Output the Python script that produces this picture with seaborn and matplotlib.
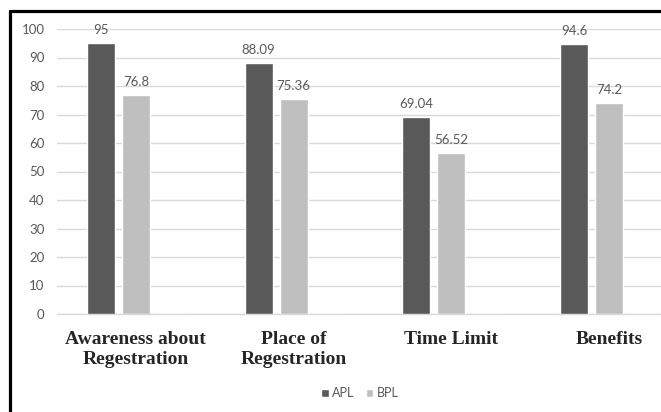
import numpy as np
import pandas as pd
import matplotlib
matplotlib.use("Agg")
import matplotlib.pyplot as plt
from matplotlib.patches import Patch
from matplotlib.lines import Line2D
import seaborn as sns

categories = ["Awareness about\nRegestration", "Place of\nRegestration", "Time Limit", "Benefits"]
apl = [95, 88.09, 69.04, 94.6]
bpl = [76.8, 75.36, 56.52, 74.2]
apl_labels = ["95", "88.09", "69.04", "94.6"]
bpl_labels = ["76.8", "75.36", "56.52", "74.2"]

# Excel kept an empty third slot in each group, so bars sit left of centre
df = pd.DataFrame({
    "category": categories * 3,
    "series": ["APL"] * 4 + ["BPL"] * 4 + ["blank"] * 4,
    "value": apl + bpl + [0, 0, 0, 0],
})

sns.set_style("white")
plt.rcParams["font.family"] = ["Lato", "DejaVu Sans"]

fig = plt.figure(figsize=(6.61, 4.12), dpi=100, facecolor="white")
ax = fig.add_axes([57 / 661, 98 / 412, 1 - 57 / 661, 285 / 412])

palette = {"APL": "#595959", "BPL": "#bfbfbf", "blank": "white"}
sns.barplot(data=df, x="category", y="value", hue="series",
            hue_order=["APL", "BPL", "blank"], order=categories,
            palette=palette, width=0.665, gap=0.2, saturation=1,
            legend=False, ax=ax, zorder=3)

for cont, labs in zip(ax.containers[:2], [apl_labels, bpl_labels]):
    ax.bar_label(cont, labels=labs, padding=5, fontsize=9.5, color="#595959")

ax.set_ylim(0, 100)
ax.set_yticks(range(0, 101, 10))
ax.set_xlim(-0.5, 3.33)
ax.grid(axis="y", color="#d9d9d9", linewidth=1, zorder=0)
ax.set_axisbelow(True)
for s in ["top", "right", "left"]:
    ax.spines[s].set_visible(False)
ax.spines["bottom"].set_color("#d9d9d9")
ax.spines["bottom"].set_linewidth(1)

ax.set_xlabel("")
ax.set_ylabel("")
ax.tick_params(axis="y", length=0, pad=9, labelsize=9.5, labelcolor="#595959")
ax.tick_params(axis="x", length=0, pad=12)
for t in ax.get_xticklabels():
    t.set_fontfamily("Liberation Serif")
    t.set_fontweight("bold")
    t.set_fontsize(14)
    t.set_linespacing(1.22)

handles = [Patch(facecolor="#595959", label="APL"), Patch(facecolor="#bfbfbf", label="BPL")]
fig.legend(handles=handles, loc="center", bbox_to_anchor=(360 / 661, 1 - 393 / 412),
           ncol=2, frameon=False, fontsize=9, labelcolor="#595959",
           handlelength=0.6, handleheight=0.6, handletextpad=0.3, columnspacing=0.9)

# outer chart border (cropped on the right/bottom)
top_y = 1 - 10.5 / 412
left_x = 9.5 / 661
fig.add_artist(Line2D([left_x, 1], [top_y, top_y], color="black", linewidth=2.3, transform=fig.transFigure))
fig.add_artist(Line2D([left_x, left_x], [0, top_y], color="black", linewidth=2.3, transform=fig.transFigure))

fig.savefig("out.png", dpi=100, facecolor="white")
